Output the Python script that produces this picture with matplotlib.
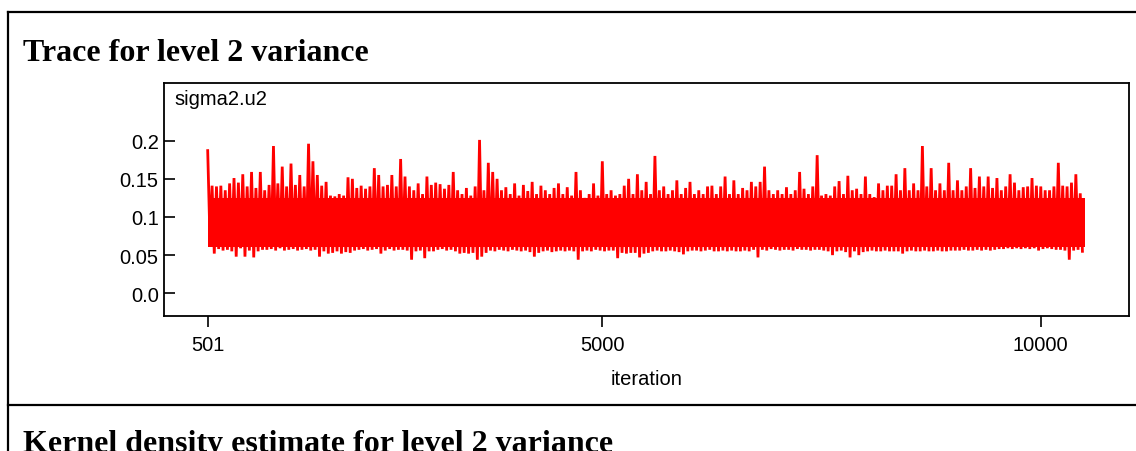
import numpy as np
import matplotlib
matplotlib.use('Agg')
import matplotlib.pyplot as plt
from matplotlib.lines import Line2D

# =====================================================
# DATA
# =====================================================

first_iter = 501
bin_size = 50          # one high / low pair per 50 iterations

# highest value reached inside each 50-iteration block
block_high = [
    0.187, 0.141, 0.140, 0.141, 0.135, 0.144, 0.151, 0.145, 0.156, 0.140,
    0.159, 0.138, 0.159, 0.135, 0.142, 0.193, 0.144, 0.166, 0.140, 0.170,
    0.142, 0.155, 0.140, 0.196, 0.173, 0.155, 0.141, 0.146, 0.128, 0.127,
    0.130, 0.128, 0.152, 0.150, 0.138, 0.141, 0.137, 0.140, 0.164, 0.155,
    0.140, 0.142, 0.155, 0.140, 0.176, 0.153, 0.140, 0.135, 0.144, 0.130,
    0.153, 0.142, 0.145, 0.143, 0.137, 0.142, 0.159, 0.135, 0.130, 0.138,
    0.128, 0.140, 0.201, 0.135, 0.171, 0.159, 0.150, 0.135, 0.139, 0.130,
    0.144, 0.128, 0.142, 0.134, 0.146, 0.130, 0.141, 0.135, 0.130, 0.138,
    0.144, 0.130, 0.139, 0.128, 0.159, 0.135, 0.125, 0.130, 0.144, 0.128,
    0.173, 0.130, 0.135, 0.128, 0.130, 0.141, 0.150, 0.130, 0.156, 0.135,
    0.146, 0.130, 0.180, 0.135, 0.140, 0.130, 0.135, 0.148, 0.130, 0.138,
    0.146, 0.130, 0.135, 0.130, 0.140, 0.141, 0.130, 0.140, 0.153, 0.130,
    0.148, 0.130, 0.138, 0.135, 0.146, 0.140, 0.146, 0.166, 0.135, 0.130,
    0.135, 0.130, 0.139, 0.130, 0.135, 0.159, 0.137, 0.130, 0.140, 0.181,
    0.128, 0.130, 0.128, 0.140, 0.147, 0.130, 0.154, 0.135, 0.137, 0.130,
    0.153, 0.130, 0.126, 0.144, 0.135, 0.141, 0.141, 0.156, 0.135, 0.164,
    0.135, 0.144, 0.135, 0.193, 0.140, 0.164, 0.135, 0.144, 0.135, 0.171,
    0.135, 0.148, 0.135, 0.140, 0.164, 0.138, 0.153, 0.140, 0.153, 0.138,
    0.151, 0.135, 0.140, 0.156, 0.145, 0.135, 0.139, 0.140, 0.151, 0.141,
    0.140, 0.135, 0.135, 0.140, 0.171, 0.141, 0.140, 0.145, 0.156, 0.131,
]

# lowest value reached inside each 50-iteration block
block_low = [
    0.075, 0.052, 0.058, 0.056, 0.057, 0.055, 0.048, 0.059, 0.048, 0.056,
    0.047, 0.055, 0.057, 0.057, 0.058, 0.056, 0.059, 0.056, 0.057, 0.058,
    0.056, 0.057, 0.058, 0.056, 0.057, 0.048, 0.055, 0.052, 0.053, 0.055,
    0.052, 0.054, 0.053, 0.056, 0.057, 0.058, 0.056, 0.057, 0.058, 0.052,
    0.056, 0.058, 0.056, 0.057, 0.057, 0.056, 0.044, 0.055, 0.056, 0.046,
    0.055, 0.055, 0.057, 0.058, 0.056, 0.057, 0.055, 0.052, 0.053, 0.052,
    0.053, 0.044, 0.048, 0.053, 0.056, 0.055, 0.057, 0.056, 0.055, 0.057,
    0.056, 0.055, 0.056, 0.054, 0.048, 0.053, 0.055, 0.056, 0.054, 0.055,
    0.056, 0.055, 0.056, 0.055, 0.044, 0.055, 0.056, 0.055, 0.057, 0.056,
    0.055, 0.056, 0.056, 0.046, 0.053, 0.052, 0.053, 0.053, 0.047, 0.052,
    0.053, 0.055, 0.056, 0.055, 0.055, 0.056, 0.055, 0.054, 0.051, 0.055,
    0.056, 0.056, 0.055, 0.056, 0.057, 0.055, 0.055, 0.056, 0.055, 0.056,
    0.055, 0.055, 0.056, 0.055, 0.057, 0.047, 0.057, 0.056, 0.058, 0.057,
    0.056, 0.057, 0.057, 0.056, 0.058, 0.057, 0.057, 0.056, 0.057, 0.057,
    0.056, 0.055, 0.050, 0.055, 0.056, 0.054, 0.047, 0.055, 0.050, 0.054,
    0.055, 0.056, 0.055, 0.055, 0.056, 0.055, 0.055, 0.055, 0.052, 0.055,
    0.056, 0.055, 0.055, 0.056, 0.055, 0.055, 0.056, 0.055, 0.055, 0.056,
    0.056, 0.056, 0.057, 0.056, 0.056, 0.057, 0.056, 0.057, 0.056, 0.057,
    0.058, 0.058, 0.059, 0.058, 0.059, 0.058, 0.059, 0.058, 0.059, 0.056,
    0.058, 0.059, 0.058, 0.057, 0.057, 0.056, 0.044, 0.056, 0.057, 0.055,
]

# range the chain sits in almost all the time (solid part of the trace)
bulk_low = 0.060
bulk_high = 0.125

x_ticks = [501, 5000, 10000]
y_ticks = [0.0, 0.05, 0.1, 0.15, 0.2]
y_tick_labels = ['0.0', '0.05', '0.1', '0.15', '0.2']

# =====================================================
# BUILD TRACE
# =====================================================

n_blocks = len(block_high)
block_start = first_iter + bin_size * np.arange(n_blocks)

trace_x = np.empty(2 * n_blocks)
trace_y = np.empty(2 * n_blocks)
trace_x[0::2] = block_start
trace_x[1::2] = block_start + bin_size / 2
trace_y[0::2] = block_high
trace_y[1::2] = block_low

last_iter = first_iter + bin_size * n_blocks - 1

# =====================================================
# FIGURE
# =====================================================

W, H = 1136, 452
fig = plt.figure(figsize=(W / 100, H / 100), dpi=100)
fig.patch.set_facecolor('white')

def fx(px):
    return px / W

def fy(py):
    return 1 - py / H

# outer frame and divider between panels
frame_kw = dict(color='black', linewidth=1.6, transform=fig.transFigure)
fig.add_artist(Line2D([fx(7.5), fx(7.5)], [fy(13.3), fy(460)], **frame_kw))
fig.add_artist(Line2D([fx(7.5), fx(1140)], [fy(13.3), fy(13.3)], **frame_kw))
fig.add_artist(Line2D([fx(7.5), fx(1140)], [fy(405.7), fy(405.7)], **frame_kw))

fig.text(fx(23), fy(61), 'Trace for level 2 variance',
         family='Liberation Serif', weight='bold', fontsize=23,
         va='baseline', ha='left')
fig.text(fx(23), fy(452.5), 'Kernel density estimate for level 2 variance',
         family='Liberation Serif', weight='bold', fontsize=23,
         va='baseline', ha='left')

left, right, top, bottom = 163.5, 1129, 83.7, 316.7
ax = fig.add_axes([fx(left), fy(bottom), fx(right - left), (bottom - top) / H])

ax.fill_between([first_iter, last_iter], bulk_low, bulk_high,
                color='#ff0000', linewidth=0)
ax.plot(trace_x, trace_y, color='#ff0000', linewidth=2.0,
        solid_joinstyle='miter')

ax.set_xlim(-3, 11007)
ax.set_ylim(-0.0294, 0.276)

ax.set_xticks(x_ticks)
ax.set_xticklabels([str(t) for t in x_ticks])
ax.set_yticks(y_ticks)
ax.set_yticklabels(y_tick_labels)

for s in ax.spines.values():
    s.set_linewidth(1.3)

ax.tick_params(axis='x', direction='out', length=8, width=1.2, pad=6,
               labelsize=14.5)
ax.tick_params(axis='y', direction='in', length=8, width=1.2, pad=3.5,
               labelsize=14.5)
for lab in ax.get_xticklabels() + ax.get_yticklabels():
    lab.set_family('Liberation Sans')

ax.set_xlabel('iteration', family='Liberation Sans', fontsize=14.5,
              labelpad=11)

ax.text((174 - left) / (right - left), (bottom - 105) / (bottom - top),
        'sigma2.u2', transform=ax.transAxes, family='Liberation Sans',
        fontsize=14.5, va='baseline', ha='left')

plt.savefig('out.png', dpi=100)
plt.close()
